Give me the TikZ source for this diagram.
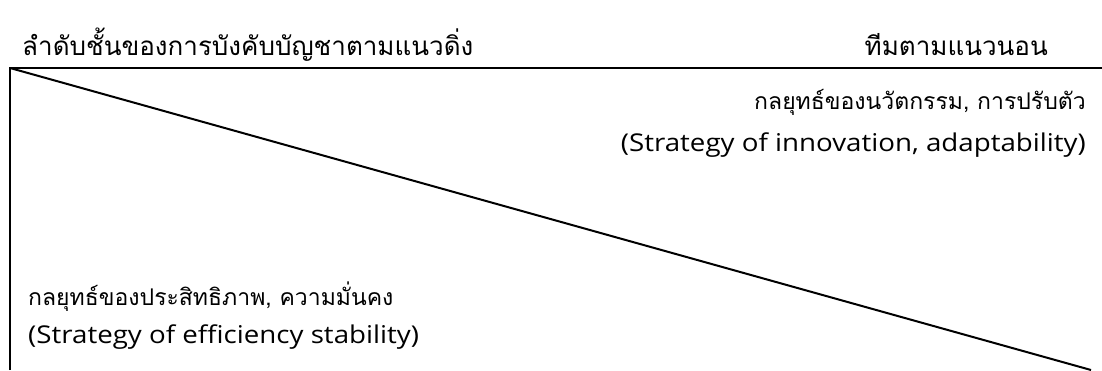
\documentclass[tikz,border=0pt]{standalone}
\usepackage{fontspec}
\setmainfont[Script=Thai]{Loma}
\newfontfamily\latinfont[FakeStretch=1.13]{Open Sans}
\tikzset{
  head/.style={inner sep=0pt, font=\fontsize{26}{30}\selectfont},
  lbl/.style={inner sep=0pt, font=\fontsize{23}{27}\selectfont},
  eng/.style={inner sep=0pt, font=\latinfont\fontsize{24.5}{28}\selectfont},
  rule/.style={line width=2pt, black}
}
\begin{document}
\begin{tikzpicture}[x=1pt,y=-1pt]
\useasboundingbox (0,0) rectangle (1102,370);
\coordinate (tl) at (10,68);
\coordinate (tr) at (1102,68);
\coordinate (bl) at (10,370);
\coordinate (br) at (1091,370);
\draw[rule] (bl) -- (tl) -- (tr);
\draw[rule] (tl) -- (br);
\node[head, anchor=west] (t1) at (22,45) {ลำดับชั้นของการบังคับบัญชาตามแนวดิ่ง};
\node[head, anchor=east] (t2) at (1048,45) {ทีมตามแนวนอน};
\node[lbl, anchor=east] (u1) at (1086,102) {กลยุทธ์ของนวัตกรรม, การปรับตัว};
\node[eng, anchor=east] (u2) at (1086,145) {(Strategy of innovation, adaptability)};
\node[lbl, anchor=west] (l1) at (28,297) {กลยุทธ์ของประสิทธิภาพ, ความมั่นคง};
\node[eng, anchor=west] (l2) at (28,337) {(Strategy of efficiency stability)};
\end{tikzpicture}
\end{document}
